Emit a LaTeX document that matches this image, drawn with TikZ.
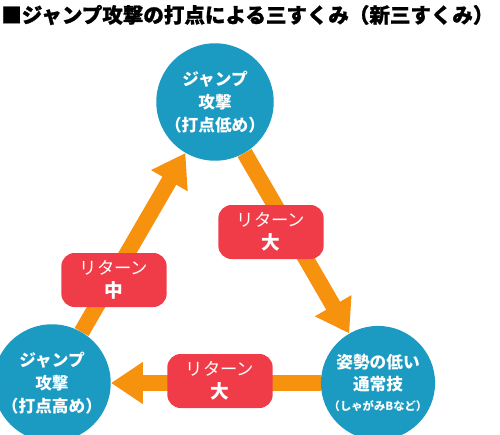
\documentclass[tikz,border=0pt]{standalone}
\usepackage{fontspec}
\setmainfont{Noto Sans CJK JP}
\newfontfamily\heavyfont{Noto Sans CJK JP}[BoldFeatures={FakeBold=1.2}]
\usetikzlibrary{arrows.meta,backgrounds}
\definecolor{circblue}{HTML}{1B9AC2}
\definecolor{arrorange}{HTML}{F7920F}
\definecolor{labred}{HTML}{F03C48}
\tikzset{
  bubble/.style={circle, fill=circblue, text=white, align=center, inner sep=0pt,
    font=\bfseries\fontsize{12.5}{17}\selectfont},
  retlabel/.style={rounded corners=10pt, fill=labred, text=white, align=center,
    minimum width=79pt, minimum height=40.5pt, inner sep=0pt,
    font=\fontsize{13}{17.5}\selectfont},
  bigarrow/.style={draw=arrorange, line width=12pt,
    -{Triangle[width=30pt,length=24pt]}}
}
\begin{document}
\begin{tikzpicture}[x=0.75pt,y=-0.75pt]
\useasboundingbox (0,0) rectangle (500,435);
\node[anchor=west, inner sep=0pt, font=\heavyfont\bfseries\fontsize{15.4}{16}\selectfont] (title) at (1,15)
  {■ジャンプ攻撃の打点による三すくみ（新三すくみ）};
\node[bubble, minimum size=75pt] (jl) at (215,102)
  {ジャンプ\\攻撃\\（打点低め）};
\node[bubble, minimum size=79.5pt] (jh) at (52,383)
  {ジャンプ\\攻撃\\（打点高め）};
\node[bubble, minimum size=79.5pt] (low) at (378,383)
  {姿勢の低い\\通常技\\[-2pt]{\fontsize{8.5}{10}\selectfont（しゃがみBなど）}};
\begin{scope}[on background layer]
  \draw[bigarrow] (jh) -- (jl);
  \draw[bigarrow] (jl) -- (low);
  \draw[bigarrow] (low) -- (jh);
\end{scope}
\node[retlabel] (r1) at (114,280) {リターン\\{\bfseries\fontsize{14}{17.5}\selectfont 中}};
\node[retlabel] (r2) at (271,232) {リターン\\{\bfseries\fontsize{14}{17.5}\selectfont 大}};
\node[retlabel] (r3) at (220,381) {リターン\\{\bfseries\fontsize{14}{17.5}\selectfont 大}};
\end{tikzpicture}
\end{document}
